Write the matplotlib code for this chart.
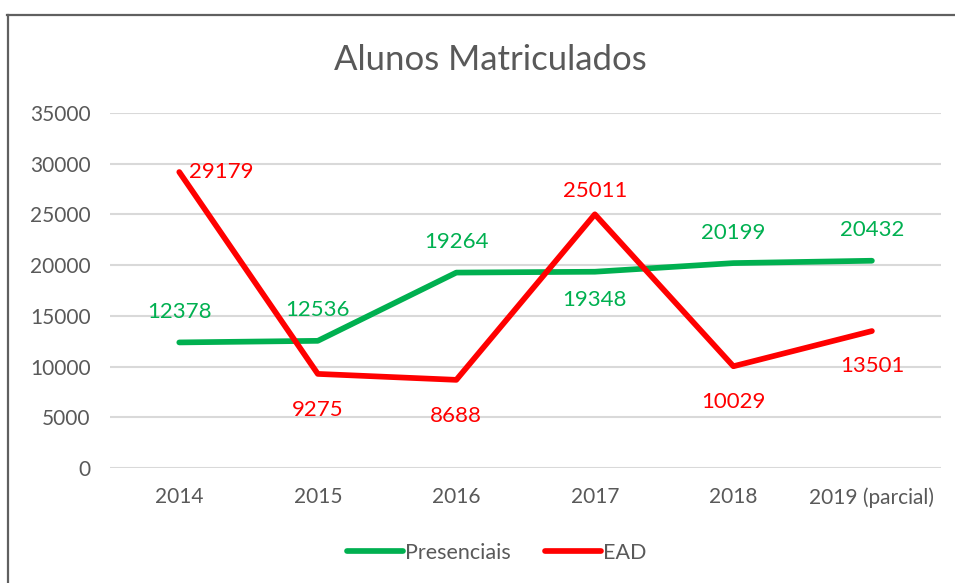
import matplotlib.pyplot as plt
from matplotlib.lines import Line2D

# data
anos = ['2014', '2015', '2016', '2017', '2018', '2019 (parcial)']
presenciais = [12378, 12536, 19264, 19348, 20199, 20432]
ead = [29179, 9275, 8688, 25011, 10029, 13501]

# where each data label sits relative to its point (offset points)
pos_presenciais = [(0, 22), (0, 22), (0, 22), (0, -20), (0, 22), (0, 22)]
pos_ead = [(7, 0), (0, -26), (0, -26), (0, 17), (0, -26), (0, -25)]

verde = '#00B050'
vermelho = '#FF0000'
cinza = '#595959'

plt.rcParams['font.family'] = ['Lato', 'DejaVu Sans']

fig = plt.figure(figsize=(9.55, 5.83), dpi=100)
ax = fig.add_axes([0.1152, 0.1973, 0.8703, 0.6089])

x = list(range(len(anos)))
ax.plot(x, presenciais, color=verde, lw=4.1, solid_capstyle='round', label='Presenciais', zorder=3)
ax.plot(x, ead, color=vermelho, lw=4.1, solid_capstyle='round', label='EAD', zorder=3)

# data labels
for i, v in enumerate(presenciais):
    ax.annotate(str(v), (i, v), xytext=pos_presenciais[i], textcoords='offset points',
                ha='center', va='center', color=verde, fontsize=16)
for i, v in enumerate(ead):
    ha = 'left' if pos_ead[i][0] > 0 else 'center'
    ax.annotate(str(v), (i, v), xytext=pos_ead[i], textcoords='offset points',
                ha=ha, va='center', color=vermelho, fontsize=16)

ax.set_xlim(-0.5, len(anos) - 0.5)
ax.set_ylim(0, 35000)
ax.set_yticks(range(0, 35001, 5000))
ax.set_xticks(x)
ax.set_xticklabels(anos)
ax.tick_params(length=0, labelsize=15, labelcolor=cinza)
ax.tick_params(axis='x', pad=14)
ax.tick_params(axis='y', pad=14)
ax.grid(axis='y', color='#D9D9D9', lw=1.5)
ax.set_axisbelow(True)
for s in ax.spines.values():
    s.set_visible(False)

fig.text(0.514, 0.897, 'Alunos Matriculados', ha='center', va='center', fontsize=25, color=cinza)

leg = fig.legend(loc='center', bbox_to_anchor=(0.52, 0.052), ncol=2, frameon=False,
                 fontsize=15.5, handlelength=2.6, handletextpad=0.1, columnspacing=1.6)
for t in leg.get_texts():
    t.set_color(cinza)

# chart frame (top and left edges only, the rest is cut off)
fig.add_artist(Line2D([0.0075, 1.0], [1 - 14.5 / 583, 1 - 14.5 / 583], color='#606060', lw=1.6))
fig.add_artist(Line2D([0.0085, 0.0085], [0, 1 - 14.5 / 583], color='#606060', lw=1.6))

fig.savefig('out.png', dpi=100)
